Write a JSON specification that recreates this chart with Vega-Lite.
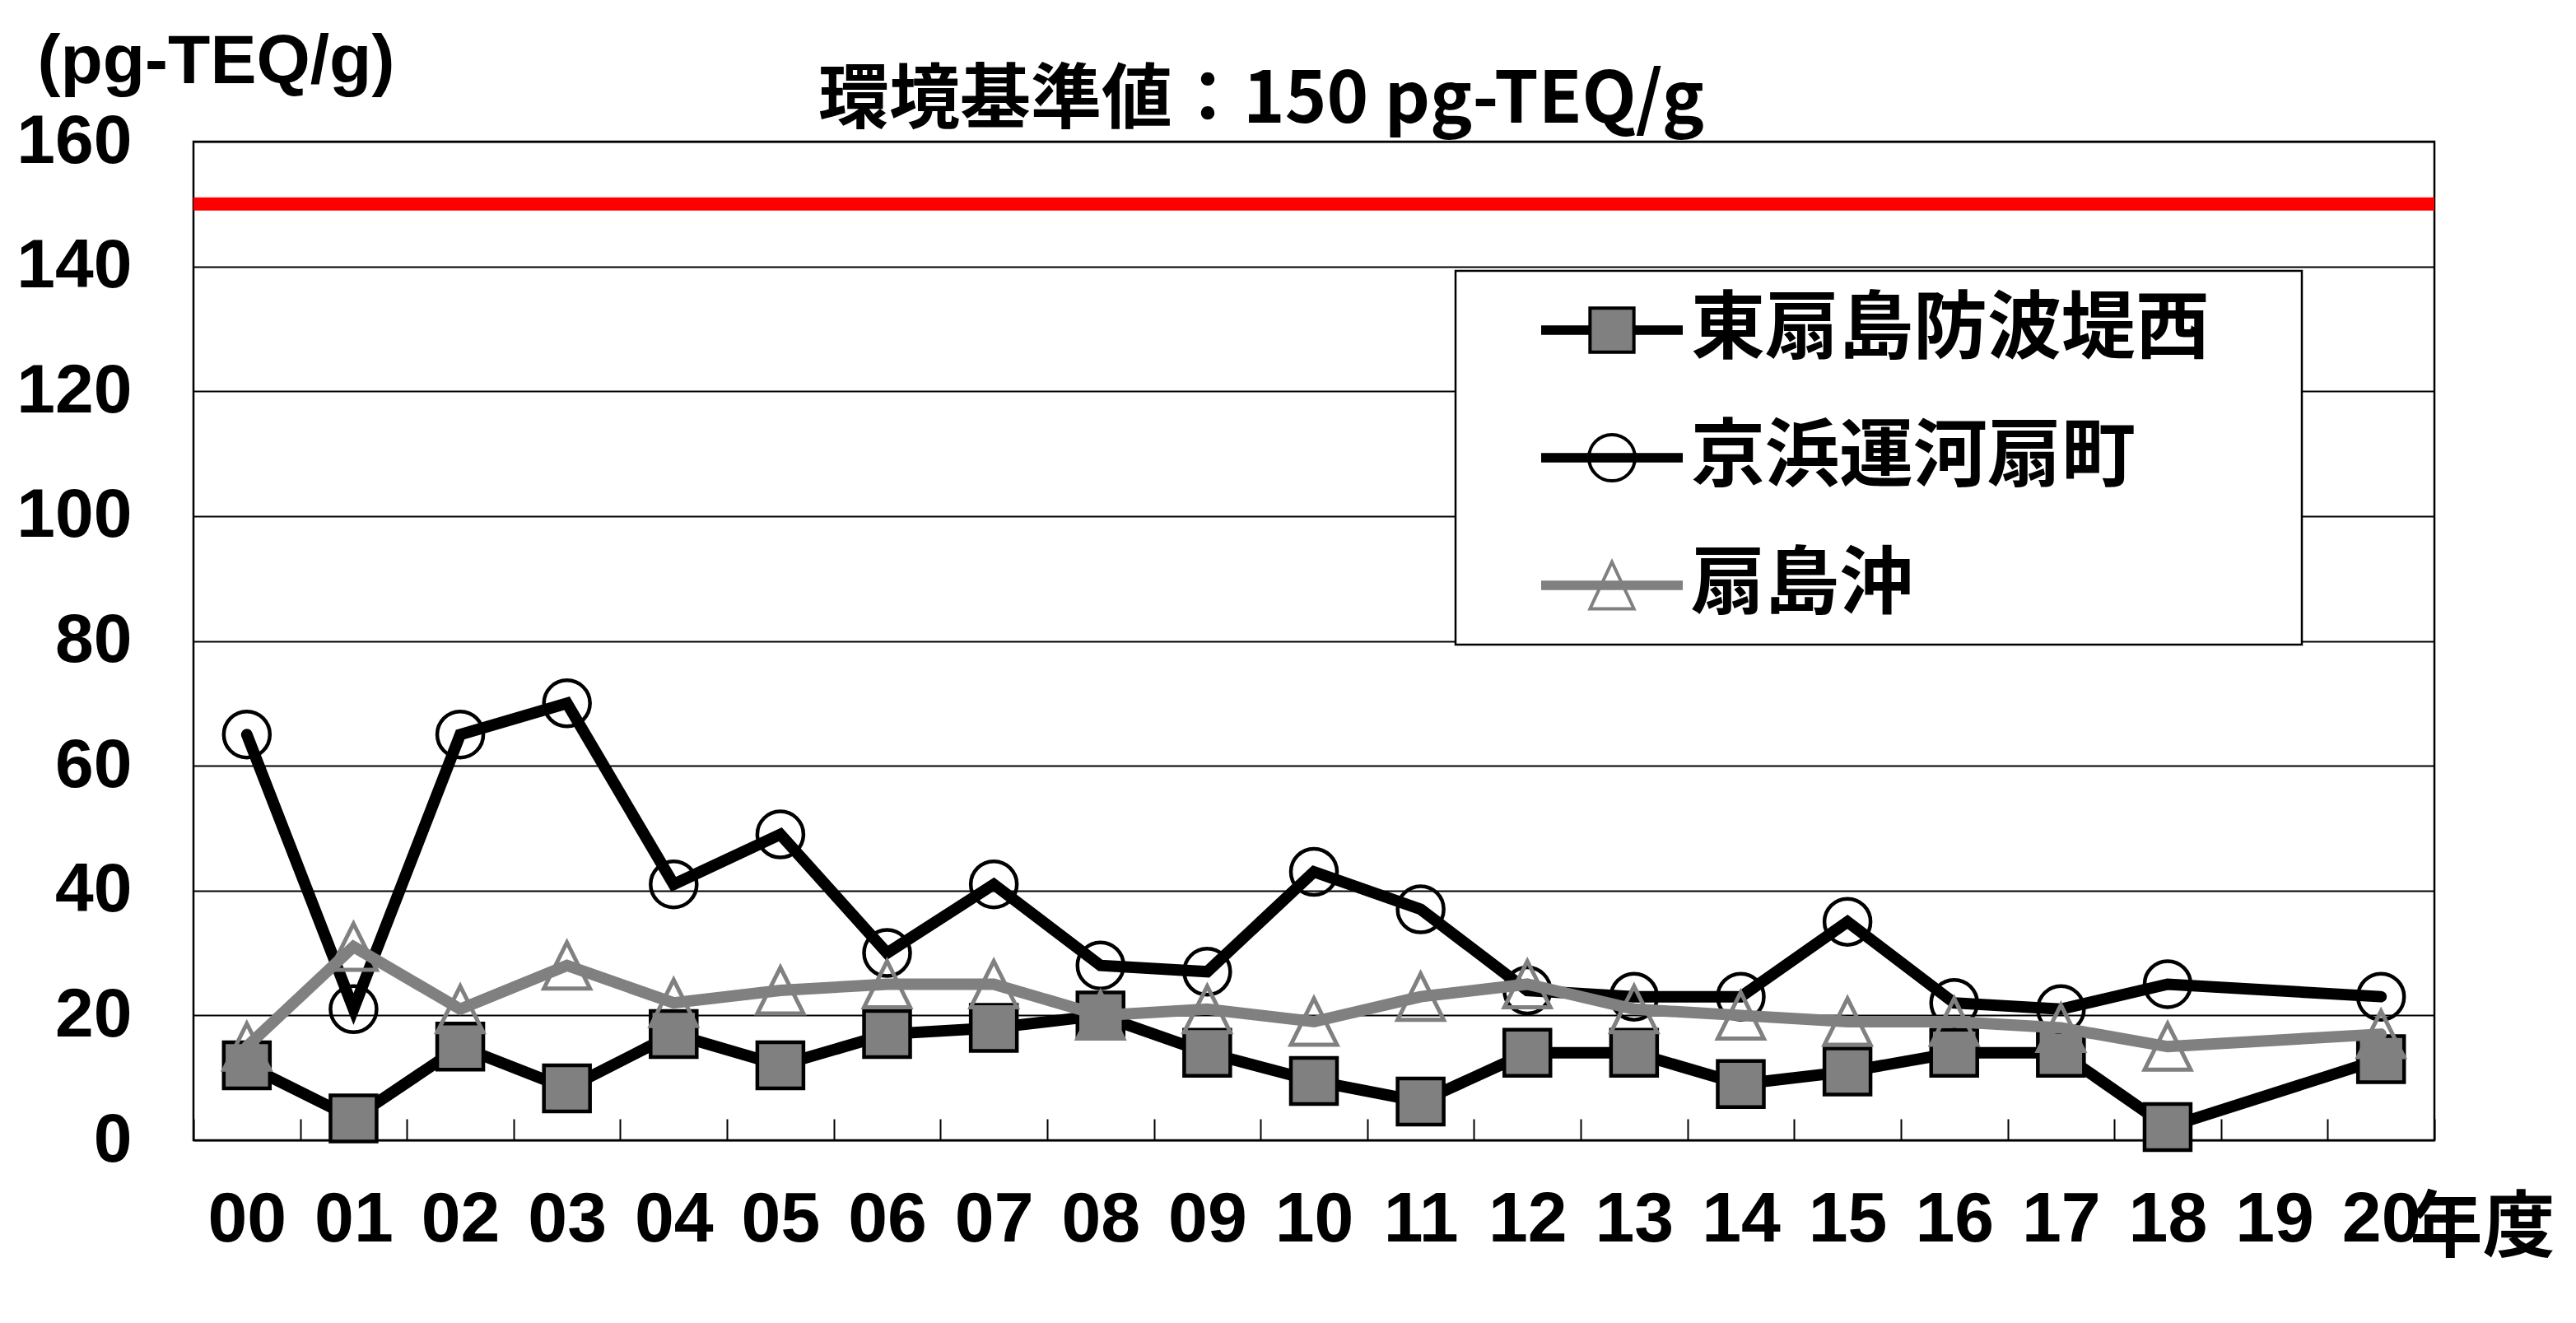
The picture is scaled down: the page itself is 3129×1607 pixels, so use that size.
{
  "$schema": "https://vega.github.io/schema/vega-lite/v6.json",
  "width": 2722,
  "height": 1213,
  "autosize": {"type": "none"},
  "padding": {"left": 235, "top": 172, "right": 172, "bottom": 222},
  "background": "white",
  "config": {
    "view": {"stroke": "black", "strokeWidth": 2.5},
    "axis": {"labelColor": "black", "titleColor": "black"}
  },
  "title": {
    "text": "環境基準値：150 pg-TEQ/g",
    "font": "Noto Sans CJK JP",
    "fontSize": 86,
    "fontWeight": "bold",
    "color": "black",
    "anchor": "middle",
    "frame": "group",
    "baseline": "alphabetic",
    "offset": 0,
    "dx": -64,
    "dy": 202
  },
  "data": {
    "values": [
      {"year": "00", "site": "東扇島防波堤西", "value": 12},
      {"year": "01", "site": "東扇島防波堤西", "value": 3.5},
      {"year": "02", "site": "東扇島防波堤西", "value": 15},
      {"year": "03", "site": "東扇島防波堤西", "value": 8.3},
      {"year": "04", "site": "東扇島防波堤西", "value": 17},
      {"year": "05", "site": "東扇島防波堤西", "value": 12},
      {"year": "06", "site": "東扇島防波堤西", "value": 17},
      {"year": "07", "site": "東扇島防波堤西", "value": 18},
      {"year": "08", "site": "東扇島防波堤西", "value": 20},
      {"year": "09", "site": "東扇島防波堤西", "value": 14},
      {"year": "10", "site": "東扇島防波堤西", "value": 9.5},
      {"year": "11", "site": "東扇島防波堤西", "value": 6.2},
      {"year": "12", "site": "東扇島防波堤西", "value": 14},
      {"year": "13", "site": "東扇島防波堤西", "value": 14},
      {"year": "14", "site": "東扇島防波堤西", "value": 9},
      {"year": "15", "site": "東扇島防波堤西", "value": 11},
      {"year": "16", "site": "東扇島防波堤西", "value": 14},
      {"year": "17", "site": "東扇島防波堤西", "value": 14},
      {"year": "18", "site": "東扇島防波堤西", "value": 2.1},
      {"year": "20", "site": "東扇島防波堤西", "value": 13},
      {"year": "00", "site": "京浜運河扇町", "value": 65},
      {"year": "01", "site": "京浜運河扇町", "value": 21},
      {"year": "02", "site": "京浜運河扇町", "value": 65},
      {"year": "03", "site": "京浜運河扇町", "value": 70},
      {"year": "04", "site": "京浜運河扇町", "value": 41},
      {"year": "05", "site": "京浜運河扇町", "value": 49},
      {"year": "06", "site": "京浜運河扇町", "value": 30},
      {"year": "07", "site": "京浜運河扇町", "value": 41},
      {"year": "08", "site": "京浜運河扇町", "value": 28},
      {"year": "09", "site": "京浜運河扇町", "value": 27},
      {"year": "10", "site": "京浜運河扇町", "value": 43},
      {"year": "11", "site": "京浜運河扇町", "value": 37},
      {"year": "12", "site": "京浜運河扇町", "value": 24},
      {"year": "13", "site": "京浜運河扇町", "value": 23},
      {"year": "14", "site": "京浜運河扇町", "value": 23},
      {"year": "15", "site": "京浜運河扇町", "value": 35},
      {"year": "16", "site": "京浜運河扇町", "value": 22},
      {"year": "17", "site": "京浜運河扇町", "value": 21},
      {"year": "18", "site": "京浜運河扇町", "value": 25},
      {"year": "20", "site": "京浜運河扇町", "value": 23},
      {"year": "00", "site": "扇島沖", "value": 15},
      {"year": "01", "site": "扇島沖", "value": 31},
      {"year": "02", "site": "扇島沖", "value": 21},
      {"year": "03", "site": "扇島沖", "value": 28},
      {"year": "04", "site": "扇島沖", "value": 22},
      {"year": "05", "site": "扇島沖", "value": 24},
      {"year": "06", "site": "扇島沖", "value": 25},
      {"year": "07", "site": "扇島沖", "value": 25},
      {"year": "08", "site": "扇島沖", "value": 20},
      {"year": "09", "site": "扇島沖", "value": 21},
      {"year": "10", "site": "扇島沖", "value": 19},
      {"year": "11", "site": "扇島沖", "value": 23},
      {"year": "12", "site": "扇島沖", "value": 25},
      {"year": "13", "site": "扇島沖", "value": 21},
      {"year": "14", "site": "扇島沖", "value": 20},
      {"year": "15", "site": "扇島沖", "value": 19},
      {"year": "16", "site": "扇島沖", "value": 19},
      {"year": "17", "site": "扇島沖", "value": 18},
      {"year": "18", "site": "扇島沖", "value": 15},
      {"year": "20", "site": "扇島沖", "value": 17}
    ]
  },
  "layer": [
    {
      "data": {"values": [{"standard": 150}]},
      "mark": {"type": "rule", "color": "#ff0000", "strokeWidth": 16},
      "encoding": {"y": {"field": "standard", "type": "quantitative"}}
    },
    {
      "transform": [{"filter": {"field": "site", "equal": "東扇島防波堤西"}}],
      "mark": {"type": "line", "strokeWidth": 14, "strokeJoin": "miter", "strokeCap": "round"},
      "encoding": {
        "x": {"field": "year", "type": "ordinal", "bandPosition": 0.5,
          "scale": {"type": "band", "domain": ["00","01","02","03","04","05","06","07","08","09","10","11","12","13","14","15","16","17","18","19","20"], "paddingInner": 0, "paddingOuter": 0},
          "axis": {"title": "年度", "domain": false, "grid": false, "ticks": true, "tickBand": "extent", "tickSize": -26, "tickWidth": 2, "tickColor": "black", "labelAngle": 0, "labelFont": "Liberation Sans", "labelFontSize": 86, "labelFontWeight": "bold", "labelPadding": 80, "labelOverlap": false, "labelLimit": 500, "titleFont": "Noto Sans CJK JP", "titleFontSize": 88, "titleFontWeight": "bold", "titleX": 2780, "titleY": 107, "titleAlign": "center", "titleBaseline": "middle"}},
        "y": {"field": "value", "type": "quantitative", "scale": {"domain": [0, 160], "nice": false},
          "axis": {"values": [0,20,40,60,80,100,120,140,160], "title": "(pg-TEQ/g)", "domain": false, "ticks": false, "grid": true, "gridColor": "black", "gridWidth": 2, "gridOpacity": 1, "labelFont": "Liberation Sans", "labelFontSize": 84, "labelFontWeight": "bold", "labelPadding": 75, "labelAlign": "right", "labelBaseline": "middle", "labelFlush": false, "labelOverlap": false, "labelLimit": 500, "titleAngle": 0, "titleAlign": "left", "titleBaseline": "alphabetic", "titleX": -190, "titleY": -72, "titleFont": "Liberation Sans", "titleFontSize": 84, "titleFontWeight": "bold", "titleLimit": 1000}},
        "color": {"field": "site", "type": "nominal",
          "scale": {"domain": ["東扇島防波堤西", "京浜運河扇町", "扇島沖"], "range": ["#000000", "#000000", "#808080"]},
          "legend": {"orient": "none", "legendX": 1533, "legendY": 157, "title": null, "direction": "vertical", "padding": 22, "strokeColor": "black", "fillColor": "white", "symbolSize": 29584, "symbolStrokeWidth": 4, "labelFont": "Noto Sans CJK JP", "labelFontSize": 90, "labelFontWeight": "bold", "labelColor": "black", "labelLimit": 2000, "labelOffset": 8, "symbolOffset": 80, "clipHeight": 100, "rowPadding": 55, "labelExpr": "datum.label + '　\u200b'",
            "encode": {
              "symbols": {
                "update": {
                  "shape": {"signal": "datum.value === '東扇島防波堤西' ? 'M-0.31,-0.31 H0.31 V0.31 H-0.31 Z M-1,-0.045 H-0.31 M-1,-0.0225 H-0.31 M-1,0 H-0.31 M-1,0.0225 H-0.31 M-1,0.045 H-0.31 M0.31,-0.045 H1 M0.31,-0.0225 H1 M0.31,0 H1 M0.31,0.0225 H1 M0.31,0.045 H1' : datum.value === '京浜運河扇町' ? 'M0.326,0 A0.326,0.326,0,1,1,-0.326,0 A0.326,0.326,0,1,1,0.326,0 Z M-1,-0.045 H1 M-1,-0.0225 H1 M-1,0 H1 M-1,0.0225 H1 M-1,0.045 H1' : 'M0,-0.33 L-0.31,0.33 L0.31,0.33 Z M-1,-0.045 H1 M-1,-0.0225 H1 M-1,0 H1 M-1,0.0225 H1 M-1,0.045 H1'"},
                  "fill": {"signal": "datum.value === '東扇島防波堤西' ? '#808080' : 'transparent'"},
                  "stroke": {"signal": "datum.value === '扇島沖' ? '#808080' : '#000000'"},
                  "strokeWidth": {"value": 4},
                  "opacity": {"value": 1},
                  "size": {"value": 29584}
                }
              },
              "legend": {"update": {"strokeWidth": {"value": 2.5}}}
            }
          }}
      }
    },
    {
      "transform": [{"filter": {"field": "site", "equal": "東扇島防波堤西"}}],
      "mark": {"type": "point", "shape": "square", "size": 3136, "filled": true, "fill": "#808080", "stroke": "#000000", "strokeWidth": 4.5, "opacity": 1},
      "encoding": {
        "x": {"field": "year", "type": "ordinal", "bandPosition": 0.5},
        "y": {"field": "value", "type": "quantitative"}
      }
    },
    {
      "transform": [{"filter": {"field": "site", "equal": "京浜運河扇町"}}],
      "mark": {"type": "line", "strokeWidth": 14, "strokeJoin": "miter", "strokeCap": "round"},
      "encoding": {
        "x": {"field": "year", "type": "ordinal", "bandPosition": 0.5},
        "y": {"field": "value", "type": "quantitative"},
        "color": {"field": "site", "type": "nominal"}
      }
    },
    {
      "transform": [{"filter": {"field": "site", "equal": "京浜運河扇町"}}],
      "mark": {"type": "point", "shape": "circle", "size": 3136, "filled": false, "stroke": "#000000", "strokeWidth": 4.5, "opacity": 1},
      "encoding": {
        "x": {"field": "year", "type": "ordinal", "bandPosition": 0.5},
        "y": {"field": "value", "type": "quantitative"}
      }
    },
    {
      "transform": [{"filter": {"field": "site", "equal": "扇島沖"}}],
      "mark": {"type": "line", "strokeWidth": 14, "strokeJoin": "miter", "strokeCap": "round"},
      "encoding": {
        "x": {"field": "year", "type": "ordinal", "bandPosition": 0.5},
        "y": {"field": "value", "type": "quantitative"},
        "color": {"field": "site", "type": "nominal"}
      }
    },
    {
      "transform": [{"filter": {"field": "site", "equal": "扇島沖"}}],
      "mark": {"type": "point", "shape": "M0,-1 L-1,1 L1,1 Z", "size": 3136, "filled": false, "stroke": "#808080", "strokeWidth": 5, "opacity": 1},
      "encoding": {
        "x": {"field": "year", "type": "ordinal", "bandPosition": 0.5},
        "y": {"field": "value", "type": "quantitative"}
      }
    }
  ]
}
